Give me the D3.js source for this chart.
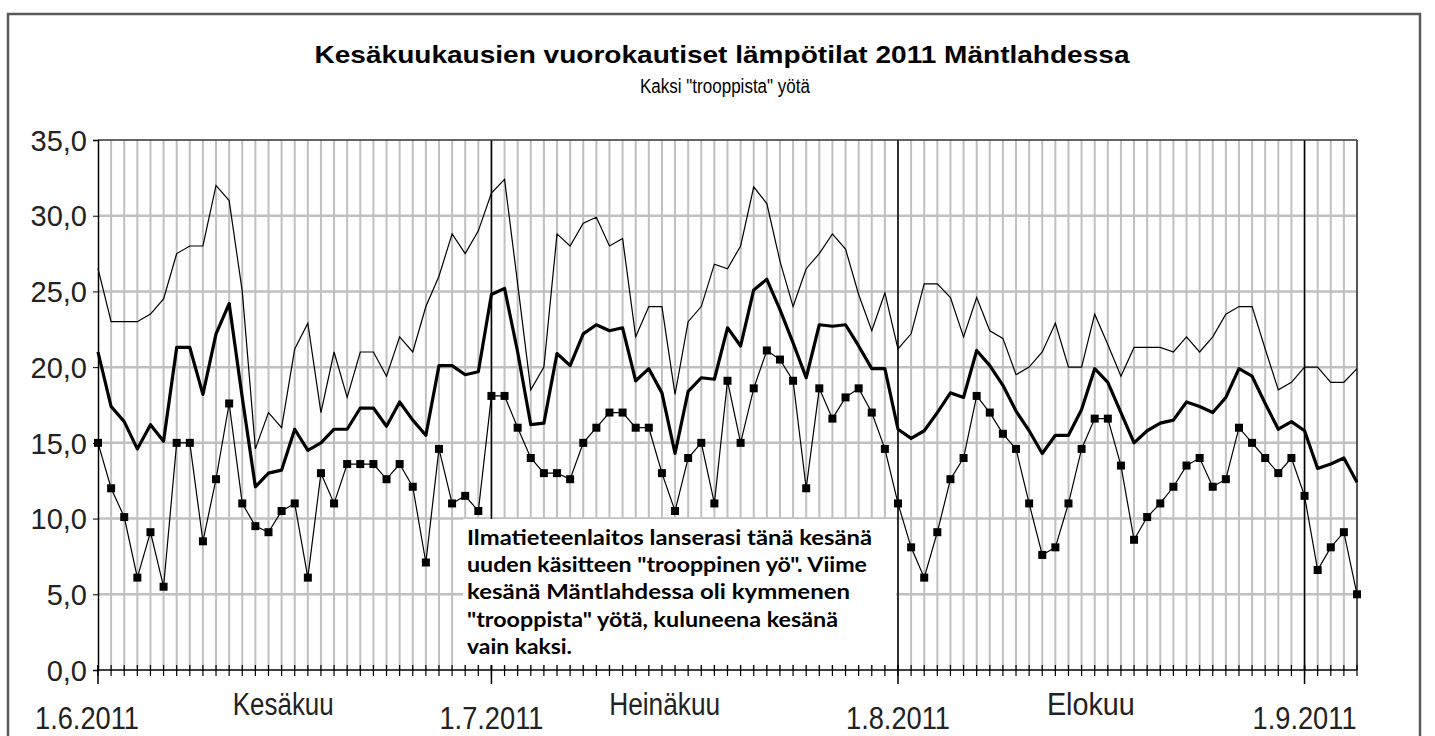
<!DOCTYPE html>
<html><head><meta charset="utf-8">
<script src="https://cdn.jsdelivr.net/npm/d3@7"></script>
<style>body{margin:0;background:#fff;overflow:hidden}</style>
</head><body><svg id="c" width="1435" height="736"></svg>
<script>
// Daily max / mean / min temperatures 1.6.2011 - 5.9.2011
const maxTemp=[26.5,23.0,23.0,23.0,23.5,24.5,27.5,28.0,28.0,32.0,31.0,25.0,14.6,17.0,16.0,21.2,22.9,17.0,21.0,18.0,21.0,21.0,19.4,22.0,21.0,24.0,26.0,28.8,27.5,29.0,
31.5,32.4,25.5,18.5,20.0,28.8,28.0,29.5,29.9,28.0,28.5,22.0,24.0,24.0,18.2,23.0,24.0,26.8,26.5,28.0,31.9,30.8,27.0,24.0,26.5,27.5,28.8,27.8,24.8,22.4,24.9,
21.2,22.2,25.5,25.5,24.6,22.0,24.6,22.4,21.9,19.5,20.0,21.0,22.9,20.0,20.0,23.5,21.5,19.4,21.3,21.3,21.3,21.0,22.0,21.0,22.0,23.5,24.0,24.0,21.2,18.5,19.0,
20.0,20.0,19.0,19.0,19.9];
const meanTemp=[21.0,17.4,16.4,14.6,16.2,15.1,21.3,21.3,18.2,22.2,24.2,18.0,12.1,13.0,13.2,15.9,14.5,15.0,15.9,15.9,17.3,17.3,16.1,17.7,16.5,15.5,20.1,20.1,19.5,19.7,
24.8,25.2,21.0,16.2,16.3,20.9,20.1,22.2,22.8,22.4,22.6,19.1,19.9,18.3,14.3,18.4,19.3,19.2,22.6,21.4,25.1,25.8,23.8,21.6,19.3,22.8,22.7,22.8,21.4,19.9,19.9,
15.9,15.3,15.8,17.0,18.3,18.0,21.1,20.1,18.8,17.1,15.8,14.3,15.5,15.5,17.2,19.9,19.0,17.0,15.0,15.8,16.3,16.5,17.7,17.4,17.0,18.0,19.9,19.4,17.6,15.9,16.4,
15.8,13.3,13.6,14.0,12.4];
const minTemp=[15.0,12.0,10.1,6.1,9.1,5.5,15.0,15.0,8.5,12.6,17.6,11.0,9.5,9.1,10.5,11.0,6.1,13.0,11.0,13.6,13.6,13.6,12.6,13.6,12.1,7.1,14.6,11.0,11.5,10.5,
18.1,18.1,16.0,14.0,13.0,13.0,12.6,15.0,16.0,17.0,17.0,16.0,16.0,13.0,10.5,14.0,15.0,11.0,19.1,15.0,18.6,21.1,20.5,19.1,12.0,18.6,16.6,18.0,18.6,17.0,14.6,
11.0,8.1,6.1,9.1,12.6,14.0,18.1,17.0,15.6,14.6,11.0,7.6,8.1,11.0,14.6,16.6,16.6,13.5,8.6,10.1,11.0,12.1,13.5,14.0,12.1,12.6,16.0,15.0,14.0,13.0,14.0,
11.5,6.6,8.1,9.1,5.0];
const yTickValues=[0,5,10,15,20,25,30,35];
const yTickLabels=["0,0","5,0","10,0","15,0","20,0","25,0","30,0","35,0"];
const monthStarts=[new Date(2011,5,1),new Date(2011,6,1),new Date(2011,7,1),new Date(2011,8,1)];
const dateLabels=["1.6.2011","1.7.2011","1.8.2011","1.9.2011"];
const monthNames=["Kesäkuu","Heinäkuu","Elokuu"];
const monthNameDates=[new Date(2011,5,15,3),new Date(2011,6,14,5),new Date(2011,7,15,17)];
const titleText="Kesäkuukausien vuorokautiset lämpötilat 2011 Mäntlahdessa";
const subtitleText='Kaksi "trooppista" yötä';
const noteLines=["Ilmatieteenlaitos lanserasi tänä kesänä",
 'uuden käsitteen "trooppinen yö". Viime',
 "kesänä Mäntlahdessa oli kymmenen",
 '"trooppista" yötä, kuluneena kesänä',
 "vain kaksi."];
const noteWidths=[405,400,383,371,105];

const days=d3.timeDay.range(new Date(2011,5,1),new Date(2011,8,6));
const svg=d3.select("#c");
const L=98,R=1357,T=140,B=670;
const x=d3.scaleTime().domain([days[0],days[days.length-1]]).range([L,R]);
const y=d3.scaleLinear().domain([0,35]).range([B,T]);

// outer frame
svg.append("rect").attr("x",8).attr("y",14).attr("width",1412).attr("height",740)
  .attr("fill","#fff").attr("stroke","#5a5a5a").attr("stroke-width",2.5);

// titles
svg.append("text").attr("x",722).attr("y",63).attr("text-anchor","middle")
  .attr("font-family","Liberation Sans, Arial, sans-serif").attr("font-weight","bold")
  .attr("font-size",24).attr("textLength",815).attr("lengthAdjust","spacingAndGlyphs").text(titleText);
svg.append("text").attr("x",725).attr("y",93).attr("text-anchor","middle")
  .attr("font-family","Liberation Sans, Arial, sans-serif")
  .attr("font-size",20).attr("textLength",170).attr("lengthAdjust","spacingAndGlyphs").text(subtitleText);

// grid
const g=svg.append("g");
g.selectAll(".vg").data(days.slice(1)).join("line")
  .attr("x1",d=>x(d)).attr("x2",d=>x(d)).attr("y1",T).attr("y2",B)
  .attr("stroke","#c0c0c0").attr("stroke-width",2);
g.selectAll(".hg").data(yTickValues.filter(v=>v>0&&v<35)).join("line")
  .attr("x1",L).attr("x2",R).attr("y1",d=>y(d)).attr("y2",d=>y(d))
  .attr("stroke","#c0c0c0").attr("stroke-width",2.5);
// month divider lines
g.selectAll(".ml").data(monthStarts.slice(1)).join("line")
  .attr("x1",d=>x(d)).attr("x2",d=>x(d)).attr("y1",T).attr("y2",B)
  .attr("stroke","#000").attr("stroke-width",1.5);
// plot border top/right
g.append("line").attr("x1",L).attr("x2",R).attr("y1",T).attr("y2",T).attr("stroke","#333").attr("stroke-width",1.5);
g.append("line").attr("x1",R).attr("x2",R).attr("y1",T).attr("y2",B).attr("stroke","#333").attr("stroke-width",1.5);

// y axis
const ya=svg.append("g").attr("transform",`translate(${L},0)`)
  .call(d3.axisLeft(y).tickValues(yTickValues).tickFormat((d,i)=>yTickLabels[i]).tickSize(5).tickPadding(6));
ya.select(".domain").attr("stroke","#000").attr("stroke-width",1.5);
ya.selectAll("text").attr("font-family","Liberation Sans, Arial, sans-serif").attr("font-size",29).attr("fill","#222").attr("dy","0.35em");

// x axis
svg.append("line").attr("x1",L).attr("x2",R).attr("y1",B).attr("y2",B).attr("stroke","#000").attr("stroke-width",1.5);
svg.selectAll(".xt").data(days).join("line")
  .attr("x1",d=>x(d)).attr("x2",d=>x(d)).attr("y1",B-5).attr("y2",B+6)
  .attr("stroke","#000").attr("stroke-width",1.2);
svg.selectAll(".xm").data(monthStarts).join("line")
  .attr("x1",d=>x(d)).attr("x2",d=>x(d)).attr("y1",B-5).attr("y2",B+14)
  .attr("stroke","#000").attr("stroke-width",1.5);

svg.selectAll(".dl").data(dateLabels).join("text")
  .attr("x",(d,i)=>i===0?87:x(monthStarts[i])).attr("y",729).attr("text-anchor","middle")
  .attr("font-family","Liberation Sans, Arial, sans-serif").attr("font-size",32).attr("fill","#222")
  .attr("textLength",104).attr("lengthAdjust","spacingAndGlyphs").text(d=>d);
svg.selectAll(".mn").data(monthNames).join("text")
  .attr("x",(d,i)=>x(monthNameDates[i])).attr("y",715).attr("text-anchor","middle")
  .attr("font-family","Liberation Sans, Arial, sans-serif").attr("font-size",31).attr("fill","#222")
  .attr("textLength",(d,i)=>[101,111,88][i]).attr("lengthAdjust","spacingAndGlyphs").text(d=>d);

// series
const line=d3.line().x((d,i)=>x(days[i])).y(d=>y(d));
svg.append("path").datum(maxTemp).attr("d",line).attr("fill","none").attr("stroke","#000").attr("stroke-width",1.2);
svg.append("path").datum(meanTemp).attr("d",line).attr("fill","none").attr("stroke","#000").attr("stroke-width",3.2).attr("stroke-linejoin","round");
svg.append("path").datum(minTemp).attr("d",line).attr("fill","none").attr("stroke","#000").attr("stroke-width",1.2);
svg.selectAll(".mk").data(minTemp).join("rect")
  .attr("x",(d,i)=>x(days[i])-4).attr("y",d=>y(d)-4).attr("width",8).attr("height",8).attr("fill","#000");

// annotation box
svg.append("rect").attr("x",463).attr("y",519).attr("width",433).attr("height",146).attr("fill","#fff");
svg.selectAll(".nt").data(noteLines).join("text")
  .attr("x",467).attr("y",(d,i)=>545+i*27.2)
  .attr("font-family","Lato, 'Open Sans', sans-serif").attr("font-weight","bold").attr("font-size",21)
  .attr("textLength",(d,i)=>noteWidths[i]).attr("lengthAdjust","spacingAndGlyphs").text(d=>d);
</script></body></html>
